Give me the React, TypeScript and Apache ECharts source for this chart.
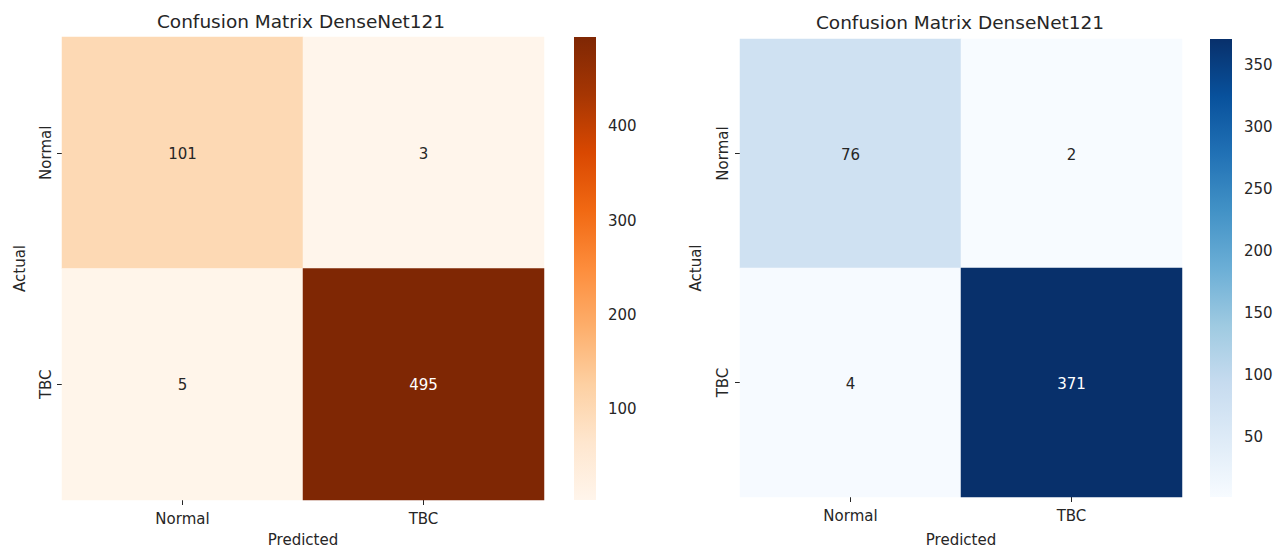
import React, { useEffect, useRef } from 'react';
import * as echarts from 'echarts';

const categories = ['Normal', 'TBC'];
const leftMatrix = [
  [101, 3],
  [5, 495],
];
const rightMatrix = [
  [76, 2],
  [4, 371],
];
const leftTicks = [100, 200, 300, 400];
const rightTicks = [50, 100, 150, 200, 250, 300, 350];
const titleTexts = ['Confusion Matrix DenseNet121', 'Confusion Matrix DenseNet121'];
const xAxisTitle = 'Predicted';
const yAxisTitle = 'Actual';
const oranges = ['#fff5eb', '#fee6ce', '#fdd0a2', '#fdae6b', '#fd8d3c', '#f16913', '#d94801', '#a63603', '#7f2704'];
const blues = ['#f7fbff', '#deebf7', '#c6dbef', '#9ecae1', '#6baed6', '#4292c6', '#2171b5', '#08519c', '#08306b'];

const FONT = 'DejaVu Sans';
const TEXT = '#262626';

const panels = [
  { matrix: leftMatrix, ticks: leftTicks, colors: oranges, title: titleTexts[0], hx: 62, hy: 37, hw: 482, hh: 463, cx: 574, cw: 22, tx: 301, ty: 21, xMargin: 11, xGap: 32, yMargin: 9, yGap: 35 },
  { matrix: rightMatrix, ticks: rightTicks, colors: blues, title: titleTexts[1], hx: 740, hy: 39, hw: 442, hh: 458, cx: 1210, cw: 22, tx: 960, ty: 22, xMargin: 11, xGap: 35, yMargin: 10, yGap: 37 },
];

export default function App() {
  const ref = useRef<HTMLDivElement>(null);
  useEffect(() => {
    if (!ref.current) return;
    const chart = echarts.init(ref.current, undefined, { renderer: 'svg' });
    const grid: any[] = [];
    const xAxis: any[] = [];
    const yAxis: any[] = [];
    const series: any[] = [];
    const visualMap: any[] = [];
    const graphic: any[] = [];

    panels.forEach((p, i) => {
      const flat = p.matrix.flat();
      const vmin = Math.min(...flat);
      const vmax = Math.max(...flat);
      const hi = i * 2;
      const ci = i * 2 + 1;
      grid.push({ left: p.hx, top: p.hy, width: p.hw, height: p.hh, outerBoundsMode: 'none', containLabel: false });
      grid.push({ left: p.cx, top: p.hy, width: p.cw, height: p.hh, outerBoundsMode: 'none', containLabel: false });

      xAxis.push({
        gridIndex: hi,
        type: 'category',
        data: categories,
        axisLine: { show: false },
        axisTick: { show: true, alignWithLabel: true, length: 5, lineStyle: { color: TEXT, width: 1 } },
        axisLabel: { color: TEXT, fontSize: 15, fontFamily: FONT, margin: p.xMargin },
        splitLine: { show: false },
        name: xAxisTitle,
        nameLocation: 'middle',
        nameGap: p.xGap,
        nameTextStyle: { color: TEXT, fontSize: 15, fontFamily: FONT },
      });
      yAxis.push({
        gridIndex: hi,
        type: 'category',
        data: categories,
        inverse: true,
        axisLine: { show: false },
        axisTick: { show: true, alignWithLabel: true, length: 5, lineStyle: { color: TEXT, width: 1 } },
        axisLabel: { color: TEXT, fontSize: 15, fontFamily: FONT, margin: p.yMargin, rotate: 90 },
        splitLine: { show: false },
        name: yAxisTitle,
        nameLocation: 'middle',
        nameGap: p.yGap,
        nameRotate: 90,
        nameTextStyle: { color: TEXT, fontSize: 15, fontFamily: FONT },
      });
      xAxis.push({ gridIndex: ci, type: 'value', show: false });
      yAxis.push({
        gridIndex: ci,
        type: 'value',
        min: vmin,
        max: vmax,
        position: 'right',
        axisLine: { show: false },
        splitLine: { show: false },
        axisTick: { show: true, length: 5, customValues: p.ticks, lineStyle: { color: TEXT, width: 1 } },
        axisLabel: { customValues: p.ticks, color: TEXT, fontSize: 15, fontFamily: FONT, margin: 12 },
      });

      const data: any[] = [];
      p.matrix.forEach((row, r) => {
        row.forEach((v, c) => {
          const t = (v - vmin) / (vmax - vmin);
          data.push({ value: [c, r, v], label: { color: t > 0.6 ? '#ffffff' : TEXT } });
        });
      });
      series.push({
        type: 'heatmap',
        xAxisIndex: hi,
        yAxisIndex: hi,
        data,
        label: { show: true, fontSize: 15, fontFamily: FONT, offset: [0, 1], formatter: (pr: any) => String(pr.value[2]) },
        emphasis: { disabled: true },
        itemStyle: { borderWidth: 0 },
      });
      visualMap.push({
        type: 'continuous',
        show: false,
        seriesIndex: i,
        dimension: 2,
        min: vmin,
        max: vmax,
        inRange: { color: p.colors },
      });

      const stops = p.colors.map((col, k) => ({ offset: 1 - k / (p.colors.length - 1), color: col }));
      graphic.push({
        type: 'rect',
        shape: { x: p.cx, y: p.hy, width: p.cw, height: p.hh },
        style: { fill: new echarts.graphic.LinearGradient(0, 0, 0, 1, stops.slice().reverse()) },
        z: 1,
        silent: true,
      });
      graphic.push({
        type: 'text',
        x: p.tx,
        y: p.ty,
        style: { text: p.title, fontSize: 18.5, fontFamily: FONT, fill: TEXT, align: 'center', verticalAlign: 'middle' },
      });
    });

    chart.setOption({
      animation: false,
      backgroundColor: '#ffffff',
      grid,
      xAxis,
      yAxis,
      series,
      visualMap,
      graphic,
    });
    return () => chart.dispose();
  }, []);
  return <div ref={ref} style={{ position: 'absolute', left: 0, top: 0, width: 1288, height: 549 }} />;
}
